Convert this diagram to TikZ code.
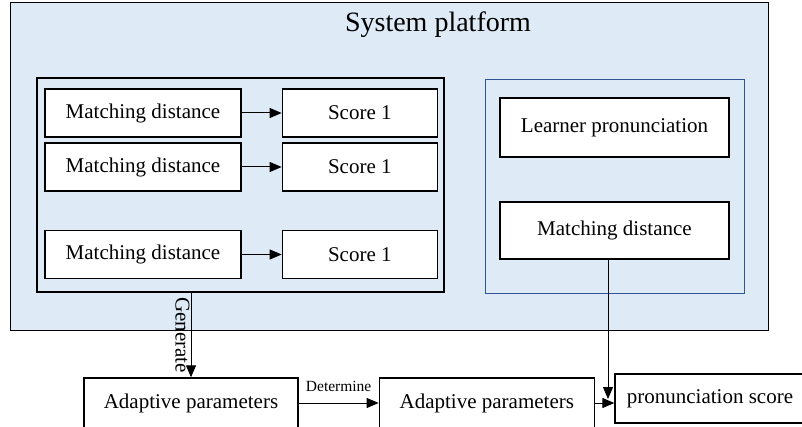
\documentclass[tikz,border=0pt]{standalone}
\usepackage{fontspec}
\setmainfont{Liberation Serif}
\usetikzlibrary{positioning, arrows.meta}

\definecolor{platblue}{RGB}{222,235,247}
\definecolor{groupblue}{RGB}{47,85,151}

\begin{document}
\begin{tikzpicture}[
		x=1pt, y=-1pt,
		>={Triangle[length=12pt, width=10pt]},
		platform/.style={draw=black, line width=1pt, fill=platblue, minimum width=758pt, minimum height=327pt},
		group/.style={draw=black, line width=1.2pt, minimum height=214pt, inner sep=0pt},
		box/.style={draw=black, line width=1.3pt, fill=white, font=\fontsize{21}{24}\selectfont, inner sep=0pt, minimum height=48pt},
		link/.style={->, line width=1pt},
		note/.style={font=\fontsize{15.5}{18}\selectfont}
		]
		
		\useasboundingbox (0,0) rectangle (802,427);
		
		% --- 1. The system platform and its two groups ---
		\node[platform] (plat) at (389,166.5) {};
		\node[font=\fontsize{28}{32}\selectfont] (title) at (438,25) {System platform};
		\node[group, minimum width=407pt] (left) at (240.5,185) {};
		\node[group, draw=groupblue, line width=1pt, minimum width=259pt, minimum height=213pt] (right) at (614.5,186.5) {};
		
		% --- 2. Matching distances and their scores ---
		\node[box, minimum width=196pt] (md1) at (143,113) {Matching distance};
		\node[box, minimum width=196pt] (md2) at (143,167) {Matching distance};
		\node[box, minimum width=196pt] (md3) at (143,254.5) {Matching distance};
		\node[box, minimum width=155pt, right=40pt of md1] (sc1) {Score 1};
		\node[box, minimum width=155pt, right=40pt of md2] (sc2) {Score 1};
		\node[box, minimum width=155pt, right=40pt of md3] (sc3) {Score 1};
		
		\draw[link] (md1) -- (sc1);
		\draw[link] (md2) -- (sc2);
		\draw[link] (md3) -- (sc3);
		
		% Learner side
		\node[box, minimum width=229pt, minimum height=59pt] (learner) at (614.5,127.5) {Learner pronunciation};
		\node[box, minimum width=229pt, minimum height=57pt] (mdR) at (614.5,230.5) {Matching distance};
		
		% --- 3. Parameters and the final score ---
		\node[box, minimum width=214pt, minimum height=50pt] (ad1) at (191,403) {Adaptive parameters};
		\node[box, minimum width=215pt, minimum height=50pt, right=80pt of ad1] (ad2) {Adaptive parameters};
		\node[box, minimum width=190pt, minimum height=49pt] (pron) at (710,398.5) {pronunciation score};
		
		\draw[link] (ad1.north |- left.south) -- node[rotate=-90, anchor=north, inner sep=1pt, font=\fontsize{21}{24}\selectfont] {Generate} (ad1.north);
		\draw[link] (ad1.east) -- node[note, above=8pt] {Determine} (ad2.west);
		\draw[link] (ad2.east) -- (ad2.east -| pron.west);
		
		% Matching distance down to the score
		\coordinate (meet) at (608,399);
		\draw[link, line width=0.8pt] (mdR.south -| meet) -- (meet);
		
	\end{tikzpicture}
\end{document}
